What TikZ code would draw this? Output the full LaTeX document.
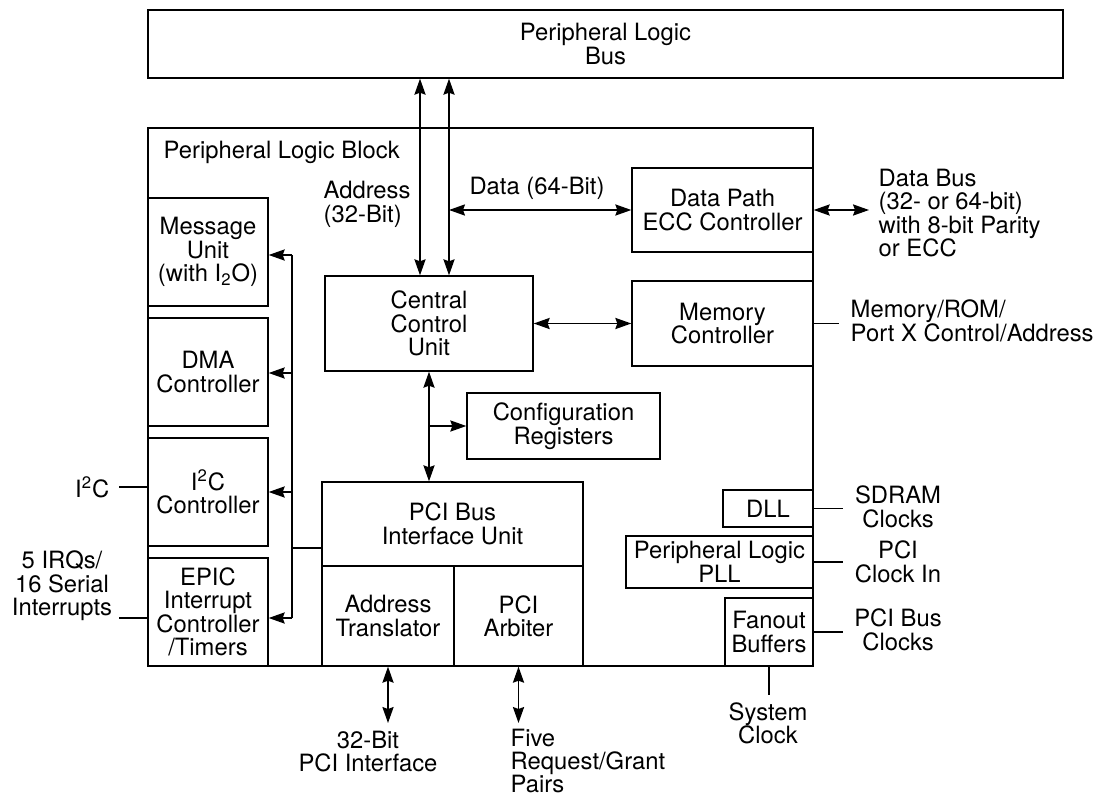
\documentclass[tikz,border=0pt]{standalone}
\usepackage{fontspec}
\setmainfont{TeX Gyre Heros}
\usetikzlibrary{arrows.meta}
\begin{document}
\begin{tikzpicture}[x=0.5pt,y=-0.5pt,line width=0.7pt,
  font=\fontsize{11.9}{11.7}\selectfont,
  blk/.style 2 args={draw,inner sep=0pt,align=center,minimum width=#1*0.5pt,minimum height=#2*0.5pt},
  txt/.style={inner sep=0pt,align=center},
  >={Stealth[length=8pt,width=5.6pt,inset=1pt]}]
\useasboundingbox (0,0) rectangle (1095,797);
\node[blk={915}{68}] (bus) at (605.5,44) {Peripheral Logic\\Bus};
\node[blk={665}{538}] (plb) at (480.5,397) {};
\node[txt,anchor=west] (plbl) at (163,152) {Peripheral Logic Block};
\node[blk={120}{108}] (msg) at (208,252) {Message\\Unit\\(with I\textsubscript{2}O)};
\node[blk={120}{108}] (dma) at (208,372) {DMA\\Controller};
\node[blk={120}{108}] (iic) at (208,492) {I\textsuperscript{2}C\\Controller};
\node[blk={120}{108}] (epic) at (208,612) {EPIC\\Interrupt\\Controller\\/Timers};
\node[blk={208}{95}] (ccu) at (429,323.5) {Central\\Control\\Unit};
\node[blk={181}{84}] (dpath) at (722.5,210) {Data Path\\ECC Controller};
\node[blk={181}{85}] (mem) at (722.5,323.5) {Memory\\Controller};
\node[blk={193}{66}] (cfg) at (563.5,426) {Configuration\\Registers};
\node[blk={261}{84}] (pci) at (452.5,524) {PCI Bus\\Interface Unit};
\node[blk={132}{100}] (atr) at (388,616) {Address\\Translator};
\node[blk={129}{100}] (arb) at (518.5,616) {PCI\\Arbiter};
\node[blk={90}{37}] (dll) at (768,508.5) {DLL};
\node[blk={187}{52}] (pll) at (719.5,562) {Peripheral Logic\\PLL};
\node[blk={88}{68}] (fan) at (769,632) {Fanout\\Buffers};
\node[txt,anchor=west,align=left] (adrl) at (323,204.5) {Address\\(32-Bit)};
\node[txt] (datl) at (537,188) {Data (64-Bit)};
\node[txt,anchor=west,align=left,inner xsep=4.5pt] (dbus) at (869,213) {Data Bus\\(32- or 64-bit)\\with 8-bit Parity\\or ECC};
\node[txt,anchor=west,align=left,inner xsep=5.5pt] (meml) at (839,321) {Memory/ROM/\\Port X Control/Address};
\node[txt] (sdr) at (898,507) {SDRAM\\Clocks};
\node[txt] (pclk) at (898,562) {PCI\\Clock In};
\node[txt] (pbc) at (898,630) {PCI Bus\\Clocks};
\node[txt] (sysl) at (768,723.5) {System\\Clock};
\node[txt] (pcil) at (368,751.5) {32-Bit\\PCI Interface};
\node[txt,anchor=west,align=left] (fivel) at (510,761) {Five\\Request/Grant\\Pairs};
\node[txt,anchor=east] (iicl) at (110,487) {I\textsuperscript{2}C};
\node[txt] (irql) at (62,586) {5 IRQs/\\16 Serial\\Interrupts};
\coordinate (adr) at ([xshift=-4.5pt]ccu.north);
\coordinate (dat) at ([xshift=10pt]ccu.north);
\draw[<->] (adr |- bus.south) -- (adr);
\draw[<->] (dat |- bus.south) -- (dat);
\draw[<->] (dat |- dpath.west) -- (dpath.west);
\draw[<->] (dpath.east) -- (dpath.east -| dbus.west);
\draw[<->] (ccu) -- (mem);
\draw (mem.east) -- (mem.east -| meml.west);
\draw[<->] (ccu.south) -- (ccu.south |- pci.north);
\draw[->] (ccu.south |- cfg.west) -- (cfg.west);
\foreach \n/\y in {msg/255,dma/373,iic/492,epic/618}
{\coordinate (t\n) at (292,\y); \draw[->] (t\n) -- (t\n -| \n.east);}
\draw (tmsg) -- (tepic);
\coordinate (tpci) at (292,548);
\draw (tpci) -- (tpci -| pci.west);
\coordinate (rclk) at (843,0);
\foreach \n in {dll,pll,fan}
{\draw (\n.east) -- (\n.east -| rclk);}
\coordinate (sck) at (768,695);
\draw (fan.south) -- (fan.south |- sck);
\coordinate (pbot) at (0,723);
\draw[<->] (atr.south) -- (atr.south |- pbot);
\draw[<->] (arb.south) -- (arb.south |- pbot);
\coordinate (lsig) at (119,618);
\draw (lsig |- iicl) -- (iicl -| iic.west);
\draw (lsig) -- (lsig -| epic.west);
\end{tikzpicture}
\end{document}
